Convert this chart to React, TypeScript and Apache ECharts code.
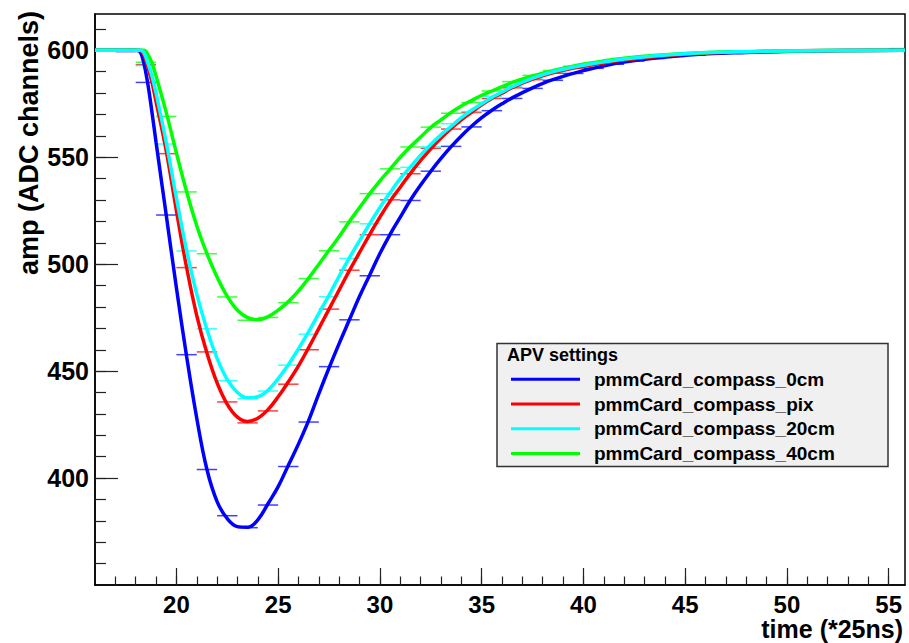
import React, { useEffect, useRef } from 'react';
import * as echarts from 'echarts';

const FONT = '"Liberation Sans", Arial, Helvetica, sans-serif';

const seriesNames = ['pmmCard_compass_0cm', 'pmmCard_compass_pix', 'pmmCard_compass_20cm', 'pmmCard_compass_40cm'];
const seriesColors = ['#0000ff', '#ff0000', '#00ffff', '#00ff00'];
const legendTitle = 'APV settings';
const xTitle = 'time (*25ns)';
const yTitle = 'amp (ADC channels)';

const xRange = [16, 55.8];
const yRange = [350, 617];
const xMajorTicks = [20, 25, 30, 35, 40, 45, 50, 55];
const xMinorTicks = [17, 18, 19, 20, 21, 22, 23, 24, 25, 26, 27, 28, 29, 30, 31, 32, 33, 34, 35, 36, 37, 38, 39, 40, 41, 42, 43, 44, 45, 46, 47, 48, 49, 50, 51, 52, 53, 54, 55];
const yMajorTicks = [400, 450, 500, 550, 600];
const yMinorTicks = [360, 370, 380, 390, 400, 410, 420, 430, 440, 450, 460, 470, 480, 490, 500, 510, 520, 530, 540, 550, 560, 570, 580, 590, 600, 610];

// fitted curves
const curveX = [16, 17, 18, 18.2, 18.4, 18.6, 18.8, 19, 19.5, 20, 20.5, 21, 21.5, 22, 22.5, 23, 23.5, 24, 24.5, 25, 25.5, 26, 26.5, 27, 27.5, 28, 28.5, 29, 29.5, 30, 30.5, 31, 31.5, 32, 32.5, 33, 33.5, 34, 34.5, 35, 35.5, 36, 36.5, 37.5, 38.5, 40, 42, 45, 48, 52, 55.8];
const curve0cm = [600, 600, 600, 599.5, 594, 584, 571, 557, 523, 489, 457, 428, 404, 389, 381, 377.3, 377, 380.5, 388, 396, 406, 416, 427, 439.5, 451.5, 463, 474, 485, 495, 505, 514, 522, 530, 537, 543.5, 549.5, 555, 560, 564.5, 568.5, 572, 575, 577.8, 582.5, 586.3, 590.5, 594.5, 597.7, 599, 599.8, 600];
const curvePix = [600, 600, 600, 600, 598, 592, 585, 576, 553, 525, 498.5, 476, 458.5, 444.5, 434.5, 428.5, 426.5, 428, 432, 438, 445, 452.5, 461, 470, 479, 488, 497, 505.5, 514, 522, 529.5, 536, 542.5, 548.5, 554, 559, 563.5, 567.5, 571, 574.5, 577.5, 580, 582.5, 586.5, 589.5, 592.5, 595.5, 598.2, 599.3, 599.9, 600];
const curve20cm = [600, 600, 600, 600, 599, 594, 588, 580, 557, 531, 506.5, 486, 469.5, 456, 446, 440, 437.5, 438, 441, 446.5, 453, 460.5, 468.5, 477, 485.5, 494.5, 503, 511, 519, 526.5, 533.5, 540, 545.5, 551, 556, 560.5, 564.5, 568.5, 572, 575, 578, 580.5, 583, 587, 590, 593, 596, 598.4, 599.4, 599.9, 600];
const curve40cm = [600, 600, 600, 600, 600, 598, 594, 588, 571, 552, 534, 518, 505, 494, 485, 478.5, 475, 474, 475.5, 478.5, 482.5, 487.5, 493.5, 500, 506.5, 513, 520, 526.5, 533, 539, 544.5, 550, 555, 559.5, 564, 567.5, 571, 574, 576.5, 579, 581, 583, 585, 588, 590.5, 593.5, 596.3, 598.5, 599.4, 599.9, 600];

// measured points (bin centres)
const pointX = [16.5, 17.5, 18.5, 19.5, 20.5, 21.5, 22.5, 23.5, 24.5, 25.5, 26.5, 27.5, 28.5, 29.5, 30.5, 31.5, 32.5, 33.5, 34.5, 35.5, 36.5, 37.5, 38.5, 39.5, 40.5, 41.5, 42.5, 43.5, 44.5, 45.5, 46.5, 47.5, 48.5, 49.5, 50.5, 51.5, 52.5, 53.5, 54.5, 55.5];
const points0cm = [600, 599.4, 585, 523, 457.7, 404, 382.4, 376.8, 387.4, 405.4, 426.2, 452.1, 474, 494.6, 513.8, 529.8, 543.5, 555.1, 564.2, 571.8, 577.5, 582.2, 586, 589.2, 591.6, 593.5, 595, 596.2, 597.1, 597.8, 598.4, 598.8, 599.2, 599.4, 599.6, 599.7, 599.8, 599.9, 600, 600.8];
const pointsPix = [600, 600, 593.3, 551.7, 498.4, 459, 435.6, 425.8, 431.4, 443.9, 460, 479, 497.2, 513.8, 530.1, 542.3, 554.2, 563.2, 570.9, 577.5, 582.5, 586.3, 589.3, 591.6, 593.5, 594.9, 596, 596.9, 597.6, 598.1, 598.6, 599, 599.3, 599.5, 599.6, 599.8, 599.9, 599.9, 600, 600];
const points20cm = [600, 600, 592.9, 556.2, 506.2, 469.8, 445.5, 437.1, 440.7, 452.8, 467.3, 484.8, 502.7, 518.9, 533, 545.3, 554.9, 565.7, 571.4, 578.5, 583, 586.8, 589.8, 592, 593.8, 595.2, 596.3, 597.1, 597.8, 598.3, 598.7, 599.1, 599.4, 599.6, 599.7, 599.8, 599.9, 600, 600, 600];
const points40cm = [600, 600, 594.4, 569.1, 533.8, 504.9, 484.7, 473.8, 475.1, 482, 493.3, 506.3, 519.8, 533, 544.6, 554.8, 564.1, 570.6, 575.6, 581, 585.4, 588.3, 590.6, 592.6, 594.2, 595.5, 596.6, 597.4, 598, 598.5, 598.9, 599.2, 599.4, 599.6, 599.7, 599.8, 599.9, 600, 600, 600];

const curves = [curve0cm, curvePix, curve20cm, curve40cm];
const points = [points0cm, pointsPix, points20cm, points40cm];
const drawOrder = [0, 1, 3, 2];

export default function App() {
  const ref = useRef<HTMLDivElement>(null);
  useEffect(() => {
    document.body.style.margin = '0';
    if (!ref.current) return;
    const chart = echarts.init(ref.current, null, { renderer: 'svg' });

    const pointSeries = drawOrder.map((i) => ({
      type: 'custom',
      name: seriesNames[i] + ' data',
      clip: true,
      z: 2,
      encode: { x: 0, y: 1 },
      data: pointX.map((x, k) => [x, points[i][k]]),
      renderItem: (params: any, api: any) => {
        const x = api.value(0);
        const y = api.value(1);
        const a = api.coord([x - 0.5, y]);
        const b = api.coord([x + 0.5, y]);
        return {
          type: 'line',
          shape: { x1: a[0], y1: a[1], x2: b[0], y2: b[1] },
          style: { stroke: seriesColors[i], lineWidth: 1.5, opacity: 0.75 },
        };
      },
    }));

    const curveSeries = drawOrder.map((i) => ({
      type: 'line',
      name: seriesNames[i],
      z: 3,
      showSymbol: false,
      smooth: 0.4,
      color: seriesColors[i],
      lineStyle: { color: seriesColors[i], width: 3.5 },
      data: curveX.map((x, k) => [x, curves[i][k]]),
    }));

    const axisText = { color: '#000', fontWeight: 'bold' as const, fontFamily: FONT };

    chart.setOption({
      animation: false,
      grid: {
        left: 95, top: 14, right: 4, bottom: 58,
        show: true, borderColor: '#000', borderWidth: 1.5, backgroundColor: 'transparent',
      },
      xAxis: [
        {
          type: 'value', min: xRange[0], max: xRange[1], position: 'bottom',
          splitLine: { show: false },
          axisLine: { show: true, lineStyle: { color: '#000', width: 1.5 } },
          axisTick: { show: true, inside: true, length: 17, customValues: xMajorTicks, lineStyle: { color: '#222', width: 1.2 } },
          axisLabel: { ...axisText, fontSize: 24, lineHeight: 20, margin: 9, customValues: xMajorTicks },
        },
        {
          type: 'value', min: xRange[0], max: xRange[1], position: 'bottom',
          splitLine: { show: false },
          axisLine: { show: false },
          axisTick: { show: true, inside: true, length: 8.5, customValues: xMinorTicks, lineStyle: { color: '#222', width: 1.2 } },
          axisLabel: { show: false },
        },
      ],
      yAxis: [
        {
          type: 'value', min: yRange[0], max: yRange[1], position: 'left',
          splitLine: { show: false },
          axisLine: { show: true, lineStyle: { color: '#000', width: 1.5 } },
          axisTick: { show: true, inside: true, length: 23, customValues: yMajorTicks, lineStyle: { color: '#222', width: 1.2 } },
          axisLabel: { ...axisText, fontSize: 25, margin: 6, customValues: yMajorTicks },
        },
        {
          type: 'value', min: yRange[0], max: yRange[1], position: 'left',
          splitLine: { show: false },
          axisLine: { show: false },
          axisTick: { show: true, inside: true, length: 11, customValues: yMinorTicks, lineStyle: { color: '#222', width: 1.2 } },
          axisLabel: { show: false },
        },
      ],
      legend: {
        orient: 'vertical', left: 511, top: 367, padding: 0, itemGap: 0,
        itemWidth: 69, itemHeight: 3, icon: 'rect', selectedMode: false, z: 10,
        data: seriesNames,
        textStyle: { color: '#000', fontSize: 19, fontWeight: 'bold', fontFamily: FONT, lineHeight: 24.7, padding: [0, 0, 0, 9] },
      },
      graphic: [
        {
          type: 'rect', z: 5, silent: true,
          shape: { x: 497, y: 343.5, width: 391, height: 123 },
          style: { fill: '#f0f0f0', stroke: '#333', lineWidth: 1.5 },
        },
        {
          type: 'text', z: 11, x: 507, y: 355,
          style: { text: legendTitle, fill: '#000', fontSize: 18, fontWeight: 'bold', fontFamily: FONT, align: 'left', verticalAlign: 'middle' },
        },
        {
          type: 'text', z: 11, x: 903, y: 629,
          style: { text: xTitle, fill: '#000', fontSize: 25, lineHeight: 22, fontWeight: 'bold', fontFamily: FONT, align: 'right', verticalAlign: 'middle' },
        },
        {
          type: 'text', z: 11, x: 29, y: 143, rotation: Math.PI / 2,
          style: { text: yTitle, fill: '#000', fontSize: 27, fontWeight: 'bold', fontFamily: FONT, align: 'center', verticalAlign: 'middle' },
        },
      ],
      series: [...pointSeries, ...curveSeries],
    });
    return () => chart.dispose();
  }, []);
  return <div ref={ref} style={{ width: 909, height: 643 }} />;
}
